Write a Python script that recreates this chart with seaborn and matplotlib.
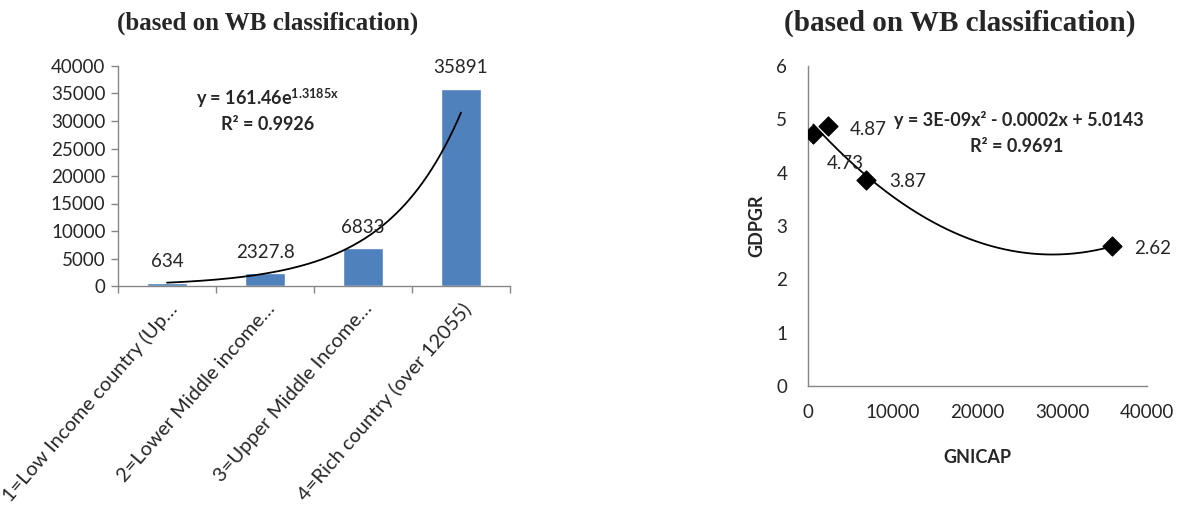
import numpy as np
import pandas as pd
import matplotlib
matplotlib.use("Agg")
import matplotlib.pyplot as plt
import seaborn as sns

# ---- data ----
categories = ["1=Low Income country (Up…", "2=Lower Middle income…",
              "3=Upper Middle Income…", "4=Rich country (over 12055)"]
gnicap = [634, 2327.8, 6833, 35891]
gnicap_labels = ["634", "2327.8", "6833", "35891"]
gdpgr = [4.73, 4.87, 3.87, 2.62]
gdpgr_labels = ["4.73", "4.87", "3.87", "2.62"]
title_text = "(based on WB classification)"
exp_eq = r"y = 161.46e$^{\mathbf{1.3185x}}$"
exp_r2 = "R² = 0.9926"
poly_eq = "y = 3E-09x² - 0.0002x + 5.0143"
poly_r2 = "R² = 0.9691"

sns.set_theme(style="white")
plt.rcParams['font.family'] = ['Lato', 'DejaVu Sans']
plt.rcParams['mathtext.fontset'] = 'custom'
plt.rcParams['mathtext.rm'] = 'Lato'
plt.rcParams['mathtext.bf'] = 'Lato:bold'
plt.rcParams['mathtext.it'] = 'Lato:italic'

W, H = 1178, 512
fig = plt.figure(figsize=(W / 100, H / 100), dpi=100)
fig.patch.set_facecolor("white")

axis_gray = "#868686"
bar_color = "#4F81BD"
fs = 13.5

# ---------------- left: bar chart ----------------
ax1 = fig.add_axes([118 / W, 1 - 286 / H, (510 - 118) / W, (286 - 66) / H])
df_bar = pd.DataFrame({"cat": categories, "val": gnicap})
sns.barplot(data=df_bar, x="cat", y="val", color=bar_color, width=0.4,
            saturation=1, ax=ax1)
ax1.bar_label(ax1.containers[0], labels=gnicap_labels, padding=9, fontsize=fs)

# exponential trendline fitted to data (x = 1..4)
xs = np.arange(1, len(gnicap) + 1)
b, ln_a = np.polyfit(xs, np.log(gnicap), 1)
xx = np.linspace(1, len(gnicap), 200)
sns.lineplot(x=xx - 1, y=np.exp(ln_a) * np.exp(b * xx), color="black",
             linewidth=1.3, ax=ax1)

ax1.set_xlim(-0.5, 3.5)
ax1.set_ylim(0, 40000)
ax1.set_yticks(np.arange(0, 40001, 5000))
ax1.set_yticklabels([str(v) for v in range(0, 40001, 5000)], fontsize=fs)
ax1.set_xticks(range(4))
ax1.set_xticklabels(categories, rotation=49, ha="right", rotation_mode="anchor",
                    fontsize=14.5)
ax1.set_xticks(np.arange(-0.5, 3.6, 1.0), minor=True)
ax1.tick_params(axis="x", which="major", length=0, pad=10)
ax1.tick_params(axis="x", which="minor", length=5, color=axis_gray, width=1,
                direction="out", bottom=True)
ax1.tick_params(axis="y", length=5, color=axis_gray, width=1, direction="out",
                left=True, pad=4)
ax1.set_xlabel("")
ax1.set_ylabel("")
for s in ["top", "right"]:
    ax1.spines[s].set_visible(False)
for s in ["left", "bottom"]:
    ax1.spines[s].set_color(axis_gray)
    ax1.spines[s].set_linewidth(1)

fig.text(268 / W, 1 - 98 / H, exp_eq, ha="center", va="center", fontsize=13,
         fontweight="bold")
fig.text(268 / W, 1 - 125 / H, exp_r2, ha="center", va="center", fontsize=13,
         fontweight="bold")
fig.text(268 / W, 1 - 23 / H, title_text, ha="center", va="center",
         fontsize=18, fontweight="bold", family=["Liberation Serif"])

# ---------------- right: scatter ----------------
ax2 = fig.add_axes([808 / W, 1 - 386 / H, (1147 - 808) / W, (386 - 66) / H])
df_sc = pd.DataFrame({"GNICAP": gnicap, "GDPGR": gdpgr})
coef = np.polyfit(gnicap, gdpgr, 2)
xp = np.linspace(min(gnicap), max(gnicap), 300)
sns.lineplot(x=xp, y=np.polyval(coef, xp), color="black", linewidth=1.3, ax=ax2)
sns.scatterplot(data=df_sc, x="GNICAP", y="GDPGR", marker="D", s=95,
                color="black", edgecolor="black", zorder=3, ax=ax2)
offsets = [(23, -21.5), (29.5, -2), (30, -1.5), (29, -1.5)]
for xv, yv, lab, off in zip(gnicap, gdpgr, gdpgr_labels, offsets):
    ax2.annotate(lab, (xv, yv), xytext=off, textcoords="offset points",
                 ha="center", va="center", fontsize=fs)
ax2.set_xlim(0, 40000)
ax2.set_ylim(0, 6)
ax2.set_xticks(np.arange(0, 40001, 10000))
ax2.set_xticklabels([str(v) for v in range(0, 40001, 10000)], fontsize=fs)
ax2.set_yticks(range(7))
ax2.set_yticklabels([str(v) for v in range(7)], fontsize=fs)
ax2.tick_params(axis="x", length=0, pad=13)
ax2.tick_params(axis="y", length=0, pad=15)
ax2.set_xlabel("GNICAP", fontsize=13, fontweight="bold", labelpad=20)
ax2.set_ylabel("GDPGR", fontsize=13, fontweight="bold", labelpad=8)
for s in ["top", "right"]:
    ax2.spines[s].set_visible(False)
for s in ["left", "bottom"]:
    ax2.spines[s].set_color(axis_gray)
    ax2.spines[s].set_linewidth(1)

fig.text(1019 / W, 1 - 120 / H, poly_eq, ha="center", va="center", fontsize=13,
         fontweight="bold")
fig.text(1017 / W, 1 - 146 / H, poly_r2, ha="center", va="center", fontsize=13,
         fontweight="bold")
fig.text(960 / W, 1 - 23 / H, title_text, ha="center", va="center",
         fontsize=21, fontweight="bold", family=["Liberation Serif"])

fig.savefig("out.png", dpi=100, facecolor="white")
